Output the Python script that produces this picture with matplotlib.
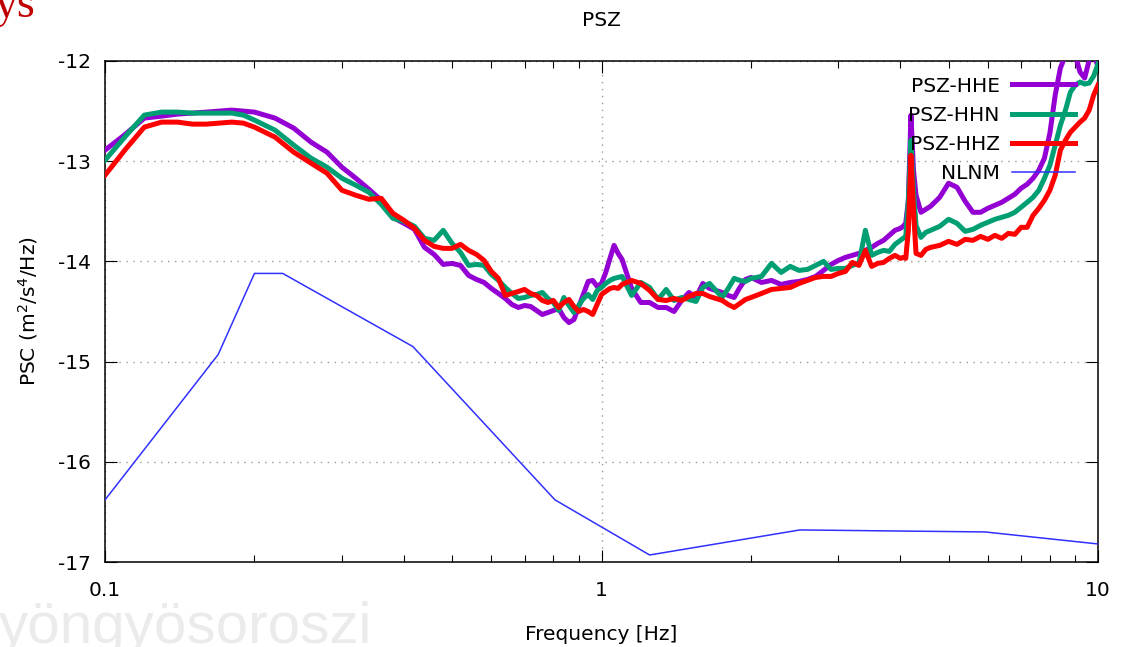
import matplotlib
matplotlib.use("Agg")
import matplotlib.pyplot as plt
from matplotlib.lines import Line2D

plt.rcParams['font.family'] = ['DejaVu Sans']
plt.rcParams['font.size'] = 14.5

# Shared frequency bins (Hz)
freq = [0.10, 0.11, 0.12, 0.13, 0.14, 0.15, 0.16, 0.17, 0.18, 0.19, 0.20,
        0.22, 0.24, 0.26, 0.28, 0.30, 0.32, 0.34, 0.36, 0.38, 0.40, 0.42, 0.44,
        0.46, 0.48, 0.50, 0.52, 0.54, 0.56, 0.58, 0.60, 0.62, 0.64, 0.66, 0.68,
        0.70, 0.72, 0.74, 0.76, 0.78, 0.80, 0.82, 0.84, 0.86, 0.88, 0.90, 0.92,
        0.94, 0.96, 0.98,
        1.00, 1.02, 1.04, 1.06, 1.08, 1.10,
        1.15, 1.20, 1.25, 1.30, 1.35, 1.40, 1.45, 1.50, 1.55, 1.60, 1.65, 1.70,
        1.75, 1.80, 1.85, 1.90, 1.95,
        2.0, 2.1, 2.2, 2.3, 2.4, 2.5, 2.6, 2.7, 2.8, 2.9, 3.0, 3.1,
        3.2, 3.3, 3.4, 3.5, 3.6, 3.7, 3.8, 3.9, 4.0,
        4.05, 4.1, 4.15, 4.2, 4.25, 4.3,
        4.4, 4.5, 4.6,
        4.8, 5.0, 5.2, 5.4, 5.6, 5.8, 6.0, 6.2, 6.4, 6.6, 6.8, 7.0,
        7.2, 7.4, 7.6, 7.8, 8.0, 8.2, 8.4, 8.6, 8.8, 9.0, 9.2, 9.4,
        9.6, 9.8, 10.0]

# log10 PSD per channel
psz_hhe = [-12.89, -12.73, -12.57, -12.55, -12.53, -12.52, -12.51, -12.50, -12.49, -12.50, -12.51,
           -12.57, -12.67, -12.81, -12.91, -13.06, -13.17, -13.28, -13.39, -13.56, -13.62, -13.68, -13.86,
           -13.93, -14.03, -14.02, -14.04, -14.14, -14.18, -14.21, -14.27, -14.32, -14.37, -14.43, -14.46,
           -14.44, -14.45, -14.49, -14.53, -14.51, -14.49, -14.47, -14.56, -14.61, -14.58, -14.45, -14.32,
           -14.20, -14.19, -14.25,
           -14.22, -14.11, -13.97, -13.84, -13.92, -13.98,
           -14.27, -14.41, -14.41, -14.46, -14.46, -14.50, -14.39, -14.31, -14.36, -14.22, -14.27, -14.29,
           -14.31, -14.34, -14.36, -14.26, -14.18,
           -14.16, -14.21, -14.19, -14.23, -14.21, -14.20, -14.18, -14.15, -14.09, -14.03, -13.99,
           -13.96, -13.94, -13.92, -13.89, -13.86, -13.82, -13.79, -13.74, -13.69, -13.67,
           -13.65, -13.62, -13.39, -12.54, -13.09, -13.34,
           -13.51, -13.48, -13.45,
           -13.36, -13.22, -13.26, -13.40, -13.51, -13.51, -13.47, -13.44, -13.41, -13.37, -13.33, -13.27,
           -13.23, -13.17, -13.09, -12.97, -12.72, -12.34, -12.07, -11.94, -11.94, -11.94, -12.11, -12.17,
           -11.99, -11.94, -12.05]

psz_hhn = [-12.99, -12.75, -12.54, -12.51, -12.51, -12.52, -12.52, -12.52, -12.52, -12.54, -12.59,
           -12.69, -12.84, -12.97, -13.06, -13.17, -13.24, -13.31, -13.43, -13.57, -13.60, -13.65, -13.77,
           -13.79, -13.69, -13.82, -13.91, -14.04, -14.03, -14.04, -14.13, -14.19, -14.26, -14.32, -14.37,
           -14.36, -14.34, -14.33, -14.31, -14.37, -14.41, -14.49, -14.36, -14.44, -14.51, -14.44, -14.37,
           -14.33, -14.38, -14.29,
           -14.26, -14.22, -14.19, -14.17, -14.16, -14.15,
           -14.34, -14.21, -14.26, -14.38, -14.28, -14.39, -14.36, -14.38, -14.40, -14.26, -14.22, -14.29,
           -14.36, -14.27, -14.17, -14.19, -14.20,
           -14.17, -14.15, -14.02, -14.11, -14.05, -14.09, -14.08, -14.04, -14.00, -14.08, -14.07,
           -14.07, -14.04, -14.02, -13.69, -13.94, -13.91, -13.89, -13.90, -13.83, -13.79,
           -13.77, -13.75, -13.39, -12.79, -13.29, -13.64,
           -13.76, -13.71, -13.69,
           -13.65, -13.58, -13.62, -13.70, -13.68, -13.64, -13.61, -13.58, -13.56, -13.54, -13.51, -13.46,
           -13.41, -13.36, -13.29, -13.17, -13.04, -12.84, -12.64, -12.49, -12.31, -12.24, -12.21, -12.23,
           -12.22, -12.15, -12.03]

psz_hhz = [-13.14, -12.88, -12.66, -12.61, -12.61, -12.63, -12.63, -12.62, -12.61, -12.62, -12.66,
           -12.76, -12.91, -13.02, -13.12, -13.29, -13.34, -13.38, -13.37, -13.52, -13.59, -13.67, -13.79,
           -13.85, -13.87, -13.87, -13.83, -13.89, -13.93, -13.99, -14.10, -14.17, -14.34, -14.32, -14.30,
           -14.28, -14.32, -14.34, -14.39, -14.41, -14.39, -14.46, -14.41, -14.38, -14.45, -14.50, -14.48,
           -14.50, -14.53, -14.43,
           -14.33, -14.30, -14.27, -14.26, -14.27, -14.23,
           -14.19, -14.22, -14.29, -14.38, -14.39, -14.37, -14.39, -14.35, -14.32, -14.32, -14.35, -14.37,
           -14.39, -14.43, -14.46, -14.42, -14.38,
           -14.36, -14.32, -14.28, -14.27, -14.26, -14.22, -14.19, -14.16, -14.15, -14.15, -14.12,
           -14.10, -14.01, -14.04, -13.89, -14.05, -14.02, -14.01, -13.97, -13.94, -13.97,
           -13.96, -13.97, -13.69, -12.94, -13.49, -13.92,
           -13.94, -13.88, -13.86,
           -13.84, -13.80, -13.83, -13.78, -13.79, -13.75, -13.78, -13.74, -13.77, -13.72, -13.73, -13.66,
           -13.66, -13.54, -13.47, -13.39, -13.29, -13.14, -12.89, -12.79, -12.71, -12.66, -12.61, -12.57,
           -12.49, -12.34, -12.24]

# New Low Noise Model
nlnm_freq = [0.1, 0.169, 0.2, 0.228, 0.417, 0.806, 1.25, 2.51, 5.92, 10.0]
nlnm_psd = [-16.38, -14.93, -14.12, -14.12, -14.85, -16.38, -16.93, -16.68, -16.70, -16.82]

series_labels = ['PSZ-HHE', 'PSZ-HHN', 'PSZ-HHZ', 'NLNM']
series_colors = ['#9400d3', '#009e73', '#ff0000', '#3030ff']

x_major = [0.1, 1, 10]
x_major_labels = ['0.1', '1', '10']
x_minor = [0.2, 0.3, 0.4, 0.5, 0.6, 0.7, 0.8, 0.9, 2, 3, 4, 5, 6, 7, 8, 9]
y_ticks = [-17, -16, -15, -14, -13, -12]

W, H = 1124, 647
fig = plt.figure(figsize=(W / 100, H / 100), dpi=100)
fig.patch.set_facecolor('white')

# faint place name along the lower edge
fig.text(372 / W, 1 - 643 / H, 'yöngyösoroszi', ha='right', va='baseline',
         fontsize=42, color='#ebebeb', family='Liberation Sans', zorder=0)
fig.text(-5 / W, 1 - 17 / H, 'ys', ha='left', va='baseline', fontsize=33,
         color='#c00000', family='Liberation Serif', zorder=5)

ax = fig.add_axes([105 / W, 85 / H, 993 / W, 501 / H])
ax.set_facecolor('none')

lw_thick = 3.6
for ys, col in zip([psz_hhe, psz_hhn, psz_hhz], series_colors[:3]):
    ax.plot(freq, ys, color=col, lw=lw_thick, solid_joinstyle='round', zorder=3)
ax.plot(nlnm_freq, nlnm_psd, color=series_colors[3], lw=1.1, zorder=4)

ax.set_xscale('log')
ax.set_xlim(0.1, 10)
ax.set_ylim(-17, -12)
ax.set_xticks(x_major)
ax.set_xticklabels(x_major_labels)
ax.set_xticks(x_minor, minor=True)
ax.set_xticklabels([], minor=True)
ax.set_yticks(y_ticks)
ax.set_yticklabels([str(v) for v in y_ticks])

ax.tick_params(which='both', direction='in', top=True, right=True, width=0.8, color='black')
ax.tick_params(which='major', length=8.6)
ax.tick_params(which='minor', length=4.7)
ax.tick_params(axis='y', pad=10)
ax.tick_params(axis='x', pad=14)
for s in ax.spines.values():
    s.set_linewidth(1.1)
    s.set_color('black')

ax.grid(True, which='major', linestyle=(0, (1, 4)), color='#9a9a9a', lw=1.0)
ax.set_axisbelow(True)

ax.set_xlabel('Frequency [Hz]')
ax.xaxis.label.set_va('center')
ax.xaxis.set_label_coords(0.5, (562 - 635) / 501)
ax.set_ylabel('PSC (m$^2$/s$^4$/Hz)')
ax.yaxis.label.set_va('center')
ax.yaxis.set_label_coords((28 - 105) / 993, 0.5)

fig.text(601 / W, 1 - 20 / H, 'PSZ', ha='center', va='center')

handles = [Line2D([], [], color=c, lw=lw_thick) for c in series_colors[:3]]
handles.append(Line2D([], [], color=series_colors[3], lw=1.1))
ax.legend(handles, series_labels, loc='upper right', bbox_to_anchor=(0.977, 0.969),
          frameon=False, markerfirst=False, handlelength=3.15, handletextpad=0.6,
          labelspacing=0.5, borderpad=0, borderaxespad=0)

fig.savefig('out.png', dpi=100)
